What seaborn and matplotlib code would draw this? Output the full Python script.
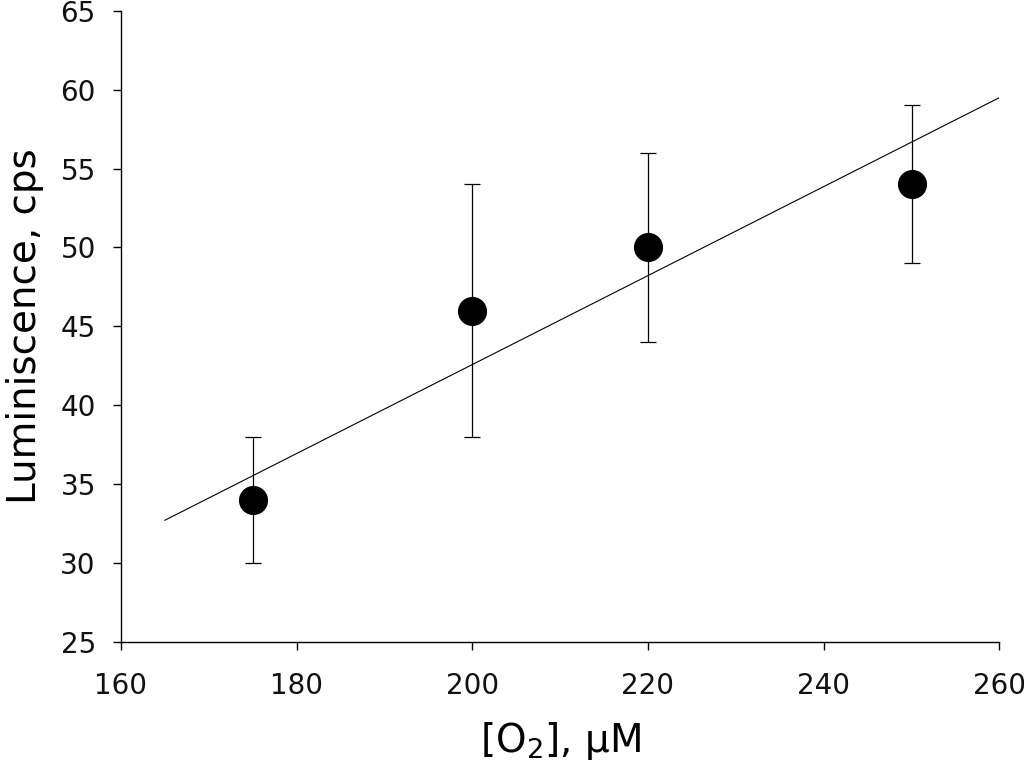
import matplotlib
matplotlib.use("Agg")
import matplotlib.pyplot as plt
import seaborn as sns
import pandas as pd

# Data
o2 = [175, 200, 220, 250]
lum = [34, 46, 50, 54]
err_low = [30, 38, 44, 49]
err_high = [38, 54, 56, 59]
trend_x = [165, 260]
trend_y = [32.7, 59.5]

x_ticks = [160, 180, 200, 220, 240, 260]
y_ticks = [25, 30, 35, 40, 45, 50, 55, 60, 65]

sns.set_theme(style="ticks")
plt.rcParams['font.family'] = ['DejaVu Sans']

fig = plt.figure(figsize=(10.24, 7.76), dpi=100)
ax = fig.add_axes([0.118, 0.173, 0.858, 0.813])

df = pd.DataFrame({"x": o2, "y": lum})
tdf = pd.DataFrame({"x": trend_x, "y": trend_y})

sns.lineplot(data=tdf, x="x", y="y", ax=ax, color="black", linewidth=0.8)

yerr = [[l - lo for l, lo in zip(lum, err_low)], [hi - l for l, hi in zip(lum, err_high)]]
ax.errorbar(o2, lum, yerr=yerr, fmt="none", ecolor="black", elinewidth=0.9,
            capsize=6, capthick=0.9, zorder=2)

sns.scatterplot(data=df, x="x", y="y", ax=ax, color="black", s=440,
                edgecolor="black", linewidth=0, zorder=3)

ax.set_xlim(160, 260)
ax.set_ylim(25, 65)
ax.set_xticks(x_ticks)
ax.set_yticks(y_ticks)
ax.tick_params(axis="both", direction="out", length=6, width=1.0,
               labelsize=20, color="black", labelcolor="#111111")
ax.tick_params(axis="x", pad=16)
ax.tick_params(axis="y", pad=12)
for s in ["top", "right"]:
    ax.spines[s].set_visible(False)
for s in ["left", "bottom"]:
    ax.spines[s].set_color("black")
    ax.spines[s].set_linewidth(1.0)

ax.set_xlabel("[O$_2$], μM", fontsize=28, labelpad=14, color="black")
ax.set_ylabel("Luminiscence, cps", fontsize=28, labelpad=12, color="black")

fig.savefig("out.png", dpi=100)
